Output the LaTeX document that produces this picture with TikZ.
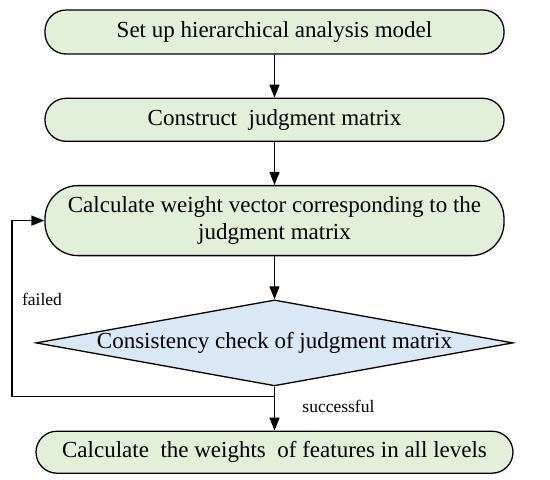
\documentclass[tikz,border=0pt]{standalone}
\usepackage{fontspec}
\setmainfont{Liberation Serif}
\usepackage{xcolor}
\usetikzlibrary{arrows.meta, positioning, shapes.geometric}

\definecolor{stepgreen}{RGB}{226,240,217}
\definecolor{checkblue}{RGB}{218,232,246}

\begin{document}
\begin{tikzpicture}[
    x=1pt, y=1pt,
    node distance=43pt,
    stepbox/.style={rectangle, rounded corners=21pt, minimum width=459pt, minimum height=44pt, inner sep=0pt, align=center, draw=black, line width=1.3pt, fill=stepgreen, font=\fontsize{23}{27}\selectfont},
    decision/.style={diamond, aspect=5.6, minimum width=477pt, minimum height=86pt, inner sep=0pt, align=center, draw=black, line width=1.3pt, fill=checkblue, font=\fontsize{23}{27}\selectfont},
    line/.style={draw=black, line width=1.3pt, -{Triangle[length=13pt, width=10pt]}},
    note/.style={font=\fontsize{17.5}{20}\selectfont}
]
    \useasboundingbox (0,0) rectangle (550,-480);

    \node[stepbox] (model) at (274.5,-32) {Set up hierarchical analysis model};
    \node[stepbox, minimum height=43pt, below=of model] (matrix) {Construct\ \ judgment matrix};
    \node[stepbox, minimum height=70pt, rounded corners=33pt, below=of matrix] (weight) {Calculate weight vector corresponding to the\\judgment matrix};
    \node[decision, below=of weight] (check) {Consistency check of judgment matrix};
    \node[stepbox, minimum width=477pt, minimum height=42pt, below=44pt of check] (result) {Calculate\ \ the weights\ \ of features in all levels};

    \coordinate (turn) at (12,-396.7);
    \node[note] (failed) at (42,-299) {failed};

    % Connectors
    \draw[line] (model) -- (matrix);
    \draw[line] (matrix) -- (weight);
    \draw[line] (weight) -- (check);
    \draw[line] (check) -- node[note, right=24pt, pos=0.45] (success) {successful} (result);
    \draw[line] (check.south) |- (turn) |- (weight.west);
\end{tikzpicture}
\end{document}
